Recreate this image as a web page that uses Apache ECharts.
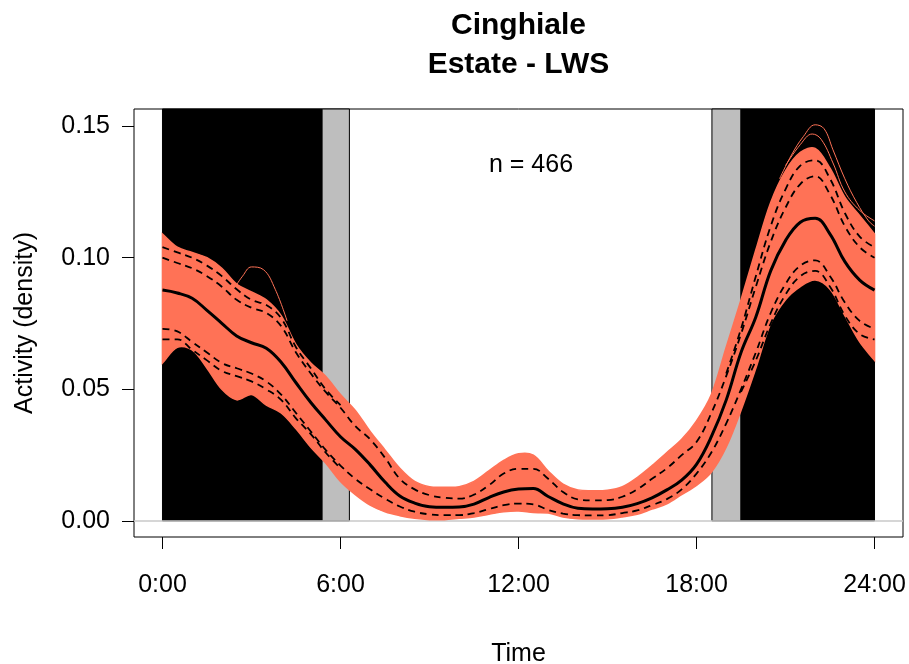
<!DOCTYPE html>
<html><head><meta charset="utf-8">
<script src="https://cdn.jsdelivr.net/npm/echarts@6/dist/echarts.min.js"></script>
<style>html,body{margin:0;padding:0;background:#fff}#c{width:909px;height:664px}</style>
</head><body><div id="c"></div>
<script>
// ---- data ----
const hours = [0,0.5,1,1.5,2,2.5,3,3.5,4,4.5,5,5.5,6,6.5,7,7.5,8,8.5,9,9.5,10,10.5,11,11.5,12,12.5,13,13.5,14,14.5,15,15.5,16,16.5,17,17.5,18,18.5,19,19.5,20,20.5,21,21.5,22,22.5,23,23.5,24];
const meanActivity = [0.0877,0.0866,0.0846,0.0800,0.0751,0.0703,0.0677,0.0656,0.0603,0.0525,0.0450,0.0384,0.0320,0.0272,0.0213,0.0148,0.0095,0.0068,0.0054,0.0052,0.0053,0.0064,0.0089,0.0110,0.0121,0.0123,0.0093,0.0065,0.0048,0.0045,0.0046,0.0052,0.0066,0.0088,0.0118,0.0155,0.0215,0.0320,0.0459,0.0640,0.0775,0.0950,0.1065,0.1135,0.1150,0.1090,0.0985,0.0915,0.0877];
const bandHigh = [0.109,0.104,0.102,0.100,0.096,0.090,0.087,0.084,0.078,0.067,0.060,0.055,0.048,0.042,0.034,0.027,0.020,0.015,0.013,0.0128,0.013,0.015,0.019,0.023,0.0255,0.025,0.019,0.014,0.0118,0.0115,0.0117,0.013,0.0165,0.021,0.026,0.031,0.038,0.048,0.066,0.084,0.103,0.121,0.133,0.140,0.1415,0.134,0.123,0.116,0.109];
const bandLow = [0.060,0.066,0.065,0.058,0.050,0.046,0.048,0.044,0.041,0.035,0.028,0.022,0.015,0.010,0.006,0.0035,0.002,0.001,0.0005,0.0005,0.001,0.0015,0.0025,0.0035,0.0038,0.0032,0.003,0.0015,0.0008,0.0007,0.0008,0.0015,0.0025,0.0045,0.0065,0.010,0.0135,0.0185,0.028,0.042,0.058,0.075,0.084,0.089,0.0915,0.088,0.078,0.068,0.061];
const ciUpper = [0.100,0.098,0.096,0.093,0.089,0.084,0.081,0.079,0.074,0.064,0.056,0.049,0.043,0.036,0.031,0.024,0.016,0.012,0.0098,0.0088,0.0085,0.010,0.0135,0.018,0.0198,0.0198,0.016,0.011,0.0082,0.0078,0.0079,0.0092,0.012,0.016,0.020,0.025,0.030,0.041,0.055,0.071,0.089,0.106,0.119,0.128,0.131,0.124,0.112,0.104,0.100];
const ciLower = [0.073,0.072,0.068,0.064,0.060,0.058,0.056,0.053,0.048,0.041,0.034,0.027,0.021,0.016,0.012,0.0085,0.0055,0.0035,0.0025,0.0022,0.0022,0.003,0.0045,0.006,0.0066,0.0063,0.0042,0.0028,0.0022,0.0021,0.0022,0.003,0.004,0.006,0.0083,0.012,0.018,0.026,0.037,0.050,0.064,0.079,0.090,0.097,0.099,0.093,0.083,0.076,0.073];
const ciUpperOuterMorning = [[0,0.104],[0.5,0.102],[1,0.100],[1.5,0.097],[2,0.093],[2.5,0.088],[3,0.084],[3.5,0.082],[4,0.077],[4.5,0.066],[5,0.058],[5.5,0.050],[6,0.044]];
const ciUpperOuterEvening = [[19,0.056],[19.5,0.073],[20,0.093],[20.5,0.112],[21,0.126],[21.5,0.135],[22,0.137],[22.5,0.130],[23,0.117],[23.5,0.108],[24,0.104]];
const ciLowerOuterMorning = [[0,0.069],[0.5,0.069],[1,0.065],[1.5,0.061],[2,0.057],[2.5,0.055],[3,0.053],[3.5,0.050],[4,0.046],[4.5,0.039],[5,0.033],[5.5,0.026],[6,0.020]];
const ciLowerOuterEvening = [[19.5,0.049],[20,0.061],[20.5,0.075],[21,0.086],[21.5,0.093],[22,0.095],[22.5,0.089],[23,0.078],[23.5,0.071],[24,0.069]];
const outlierMorning = [[2.4,0.088],[2.7,0.093],[3.0,0.0965],[3.4,0.0955],[3.8,0.088],[4.2,0.076]];
const outlierEveningA = [[20.8,0.130],[21.2,0.139],[21.6,0.146],[22.0,0.1505],[22.3,0.149],[22.6,0.141],[23.0,0.130],[23.4,0.121],[23.8,0.114],[24,0.112]];
const outlierEveningB = [[21.0,0.135],[21.5,0.143],[21.9,0.147],[22.2,0.145],[22.6,0.136],[23.0,0.125],[23.5,0.118],[24,0.114]];
const xTicks = [0,6,12,18,24];
const xTickLabels = ['0:00','6:00','12:00','18:00','24:00'];
const yTicks = [0,0.05,0.10,0.15];
const nightMorning = [0,5.38];
const twilightMorning = [5.38,6.3];
const twilightEvening = [18.52,19.5];
const nightEvening = [19.5,24];
const titleLines = ['Cinghiale','Estate - LWS'];
const sampleLabel = 'n = 466';
const xName = 'Time';
const yName = 'Activity (density)';

// ---- chart ----
const FONT = 'Liberation Sans, Arial, sans-serif';
const CORAL = '#FF7256';
const Y_MIN = -0.0061, Y_MAX = 0.1565;
const pairs = arr => hours.map((h,i)=>[h,arr[i]]);
const bandData = hours.map((h,i)=>[h, bandLow[i], bandHigh[i]]);

const chart = echarts.init(document.getElementById('c'), null, {renderer:'canvas'});
function area(range, color){
  return [{xAxis: range[0], yAxis: 0, itemStyle:{color: color, borderColor:'#000', borderWidth:1}}, {xAxis: range[1], yAxis: Y_MAX}];
}
function dashed(d, name){
  return {name, type:'line', data: d, smooth:0.4, symbol:'none', z:4,
    lineStyle:{color:'#000', width:1.8, type:[7,5]}, silent:true};
}
const thin = (d,name)=>({name, type:'line', data:d, smooth:0.4, symbol:'none', z:3,
    lineStyle:{color:CORAL, width:1}, silent:true});

function renderBand(params, api){
  if (params.dataIndex !== 0) return null;
  const upper = bandData.map(d => api.coord([d[0], d[2]]));
  const lower = bandData.map(d => api.coord([d[0], d[1]])).reverse();
  // duplicate the end points so the closing edges stay straight
  const pts = [upper[0]].concat(upper, [upper[upper.length-1]], [lower[0]], lower, [lower[lower.length-1]]);
  return {type:'polygon', shape:{points:pts, smooth:0.35},
    style:{fill:CORAL, stroke:CORAL, lineWidth:1.5}};
}

chart.setOption({
  animation:false,
  backgroundColor:'#fff',
  grid:{left:134, right:6, top:109, bottom:127, outerBoundsMode:'none', containLabel:false,
    show:true, borderColor:'#000', borderWidth:1, backgroundColor:'transparent'},
  xAxis:{type:'value', min:-0.96, max:24.96, position:'bottom',
    name:xName, nameLocation:'middle', nameGap:105,
    nameTextStyle:{fontFamily:FONT, fontSize:25, color:'#000'},
    axisLine:{show:false, onZero:false}, splitLine:{show:false},
    axisTick:{show:true, customValues:xTicks, length:12, lineStyle:{color:'#000', width:1}},
    axisLabel:{customValues:xTicks, margin:36, fontFamily:FONT, fontSize:25, color:'#000',
      formatter:v=>xTickLabels[xTicks.indexOf(v)]}},
  yAxis:{type:'value', min:Y_MIN, max:Y_MAX, position:'left',
    name:yName, nameLocation:'middle', nameGap:96, nameRotate:90,
    nameTextStyle:{fontFamily:FONT, fontSize:25, color:'#000'},
    axisLine:{show:false, onZero:false}, splitLine:{show:false},
    axisTick:{show:true, customValues:yTicks, length:12, lineStyle:{color:'#000', width:1}},
    axisLabel:{customValues:yTicks, margin:24, fontFamily:FONT, fontSize:25, color:'#000',
      formatter:v=>v.toFixed(2)}},
  graphic:[
    {type:'text', x:518.5, y:26, style:{text:titleLines[0], font:'bold 30px '+FONT, fill:'#000', textAlign:'center', textVerticalAlign:'middle'}},
    {type:'text', x:518.5, y:65, style:{text:titleLines[1], font:'bold 30px '+FONT, fill:'#000', textAlign:'center', textVerticalAlign:'middle'}},
    {type:'text', x:531, y:165, z:10, style:{text:sampleLabel, font:'25px '+FONT, fill:'#000', textAlign:'center', textVerticalAlign:'middle'}}
  ],
  series:[
    {name:'periods', type:'line', data:[[0,0]], symbol:'none', silent:true, lineStyle:{opacity:0},
      markArea:{silent:true, z:1, label:{show:false}, emphasis:{disabled:true},
        data:[area(nightMorning,'#000'), area(twilightMorning,'#BEBEBE'), area(twilightEvening,'#BEBEBE'), area(nightEvening,'#000')]},
      markLine:{silent:true, z:1, symbol:['none','none'], label:{show:false}, emphasis:{disabled:true},
        lineStyle:{color:'#C8C8C8', width:1.5, type:'solid'}, data:[{yAxis:0}]}},
    {name:'band', type:'custom', data:bandData, renderItem:renderBand, z:2, silent:true, clip:true,
      encode:{x:0, y:[1,2]}},
    thin(outlierMorning,'o1'), thin(outlierEveningA,'o2'), thin(outlierEveningB,'o3'),
    dashed(pairs(ciUpper),'cu'), dashed(pairs(ciLower),'cl'),
    dashed(ciUpperOuterMorning,'cum'), dashed(ciUpperOuterEvening,'cue'),
    dashed(ciLowerOuterMorning,'clm'), dashed(ciLowerOuterEvening,'cle'),
    {name:'mean', type:'line', data:pairs(meanActivity), smooth:0.4, symbol:'none', z:5,
      lineStyle:{color:'#000', width:3}, silent:true}
  ]
});
</script></body></html>
